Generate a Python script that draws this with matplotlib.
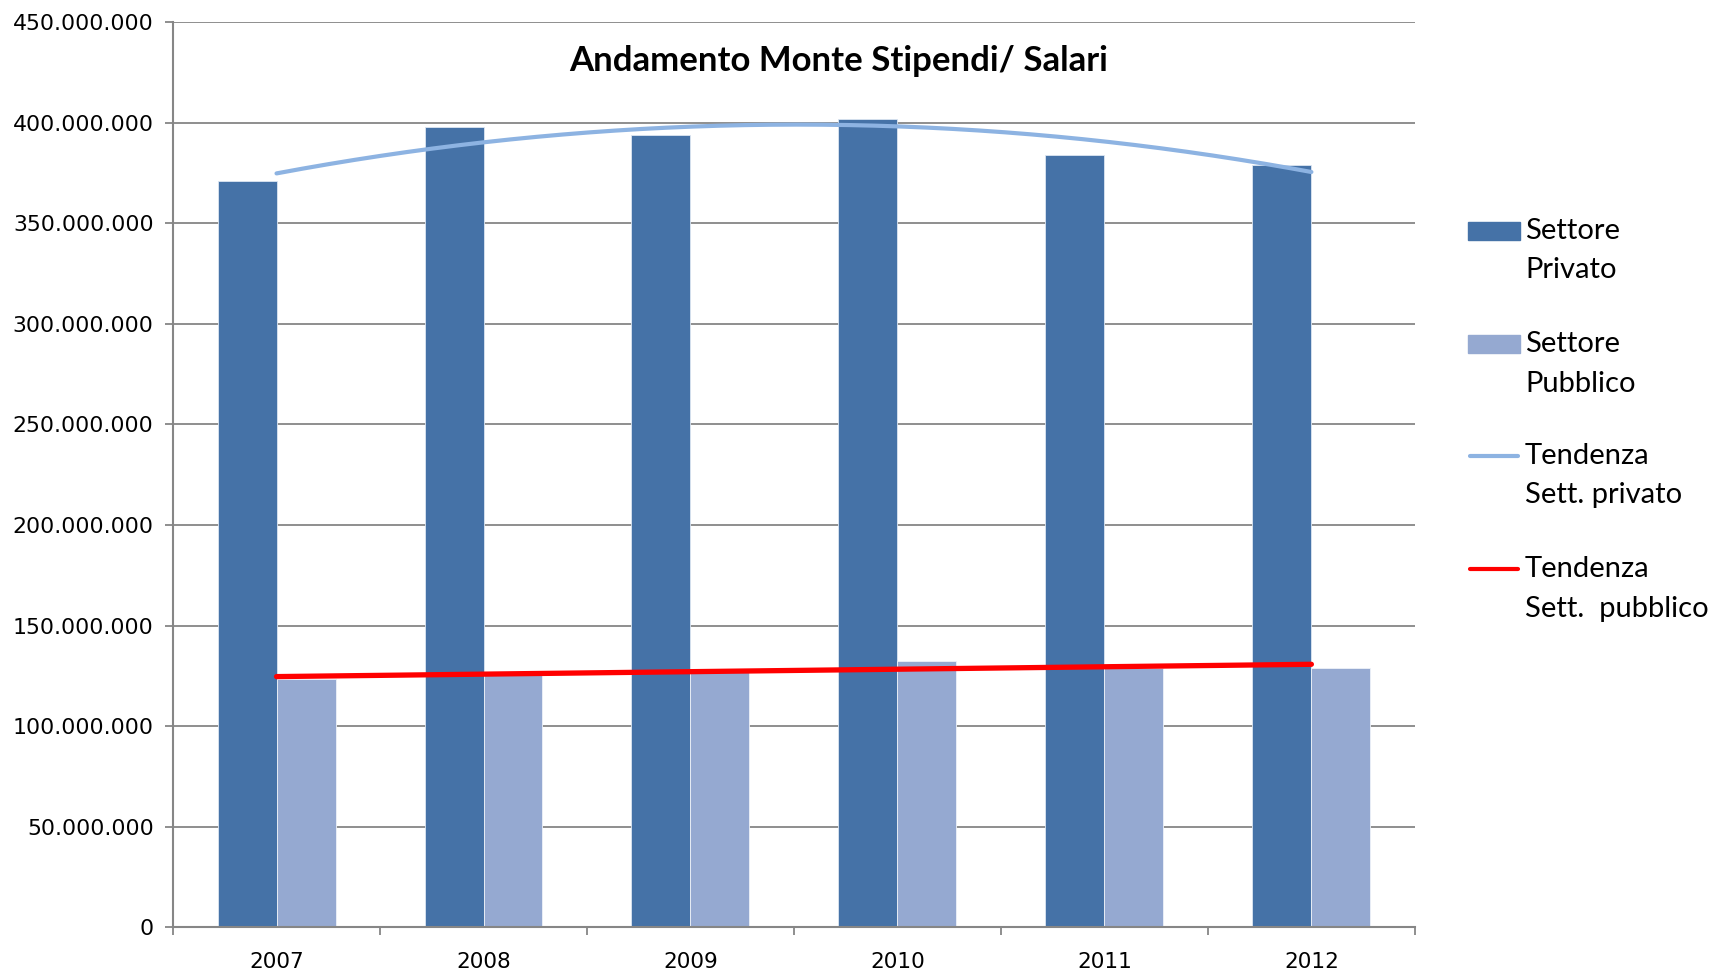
import numpy as np
import matplotlib.pyplot as plt
from matplotlib.ticker import FuncFormatter, FixedLocator
from matplotlib.patches import Rectangle
from matplotlib.lines import Line2D

# Data
years = ['2007', '2008', '2009', '2010', '2011', '2012']
privato = [371_000_000, 398_000_000, 393_700_000, 401_600_000, 384_000_000, 378_800_000]
pubblico = [123_700_000, 125_500_000, 126_800_000, 132_300_000, 129_100_000, 129_000_000]

col_priv = '#4572A7'
col_pubb = '#95A9D1'
col_trend_priv = '#8DB3E2'
col_trend_pubb = '#FF0000'
grid_col = '#868686'

fig = plt.figure(figsize=(17.15, 9.73), dpi=100, facecolor='white')
ax = fig.add_axes([0.1009, 0.0468, 0.825 - 0.1009, 0.9774 - 0.0468])

x = np.arange(len(years))
w = 0.285
ax.bar(x - w / 2, privato, w, color=col_priv, edgecolor='#dce6f2', linewidth=0.6, zorder=2)
ax.bar(x + w / 2, pubblico, w, color=col_pubb, edgecolor='#eef2f8', linewidth=0.6, zorder=2)

# Excel-style trendlines: polynomial (order 2) for private, linear for public
xs = np.linspace(0, len(years) - 1, 200)
p2 = np.polyfit(x, privato, 2)
ax.plot(xs, np.polyval(p2, xs), color=col_trend_priv, lw=3.0, solid_capstyle='round', zorder=3)
p1 = np.polyfit(x, pubblico, 1)
ax.plot(xs, np.polyval(p1, xs), color=col_trend_pubb, lw=3.8, solid_capstyle='round', zorder=3)

ax.set_xlim(-0.5, len(years) - 0.5)
ax.set_ylim(0, 450_000_000)
ax.set_yticks(np.arange(0, 450_000_001, 50_000_000))
ax.yaxis.set_major_formatter(FuncFormatter(lambda v, p: f'{int(v):,}'.replace(',', '.')))
ax.yaxis.grid(True, color=grid_col, linewidth=1.3, zorder=0)
ax.set_axisbelow(True)

# category boundaries as major ticks, labels on minor ticks at centres
ax.xaxis.set_major_locator(FixedLocator(np.arange(-0.5, len(years), 1.0)))
ax.xaxis.set_major_formatter(FuncFormatter(lambda v, p: ''))
ax.xaxis.set_minor_locator(FixedLocator(x))
ax.set_xticklabels(years, minor=True)
ax.tick_params(axis='x', which='major', length=6, width=1.3, color=grid_col, direction='out')
ax.tick_params(axis='x', which='minor', length=0, pad=18, labelsize=15.6)
ax.tick_params(axis='y', length=6, width=1.3, color=grid_col, direction='out', labelsize=15.8, pad=8)

for s in ['top', 'right']:
    ax.spines[s].set_visible(False)
for s in ['left', 'bottom']:
    ax.spines[s].set_color(grid_col)
    ax.spines[s].set_linewidth(1.5)

fig.text(0.489, 0.937, 'Andamento Monte Stipendi/ Salari', ha='center', va='center',
         fontsize=25, fontweight='bold', family=['Lato', 'DejaVu Sans'])

# Legend drawn in figure pixels to mimic Excel layout
W, H = 1715, 973
leg_font = dict(fontsize=21, family=['Lato', 'DejaVu Sans'], va='center', ha='left')
entries = [
    ('patch', col_priv, 'Settore', 'Privato', 231),
    ('patch', col_pubb, 'Settore', 'Pubblico', 344),
    ('line', col_trend_priv, 'Tendenza', 'Sett. privato', 456),
    ('line', col_trend_pubb, 'Tendenza', 'Sett.  pubblico', 569),
]
for kind, col, l1, l2, yc in entries:
    if kind == 'patch':
        fig.add_artist(Rectangle((1468 / W, 1 - (yc + 9) / H), 52 / W, 18 / H,
                                 transform=fig.transFigure, color=col))
    else:
        fig.add_artist(Line2D([1470 / W, 1518 / W], [1 - yc / H, 1 - yc / H],
                              transform=fig.transFigure, color=col, lw=3.0,
                              solid_capstyle='round'))
    fig.text(1525 / W, 1 - yc / H, l1, **leg_font)
    fig.text(1525 / W, 1 - (yc + 39.5) / H, l2, **leg_font)

plt.savefig('out.png', dpi=100, facecolor='white')
